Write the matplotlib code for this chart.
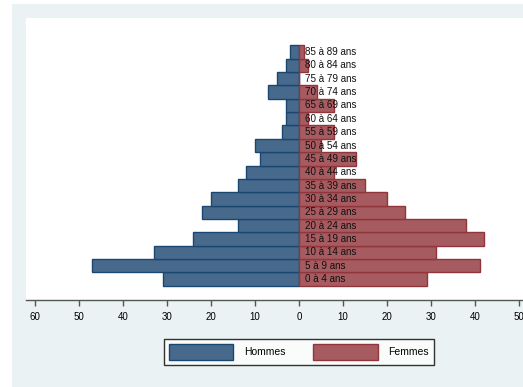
import matplotlib
matplotlib.use("Agg")
import matplotlib.pyplot as plt
from matplotlib.patches import Rectangle, Patch

plt.rcParams['font.family'] = ['Liberation Sans', 'DejaVu Sans']

age_groups = ["0 à 4 ans", "5 à 9 ans", "10 à 14 ans", "15 à 19 ans", "20 à 24 ans",
              "25 à 29 ans", "30 à 34 ans", "35 à 39 ans", "40 à 44 ans", "45 à 49 ans",
              "50 à 54 ans", "55 à 59 ans", "60 à 64 ans", "65 à 69 ans", "70 à 74 ans",
              "75 à 79 ans", "80 à 84 ans", "85 à 89 ans"]
hommes = [31, 47, 33, 24, 14, 22, 20, 14, 12, 9, 10, 4, 3, 3, 7, 5, 3, 2]
femmes = [29, 41, 31, 42, 38, 24, 20, 15, 8, 13, 5, 8, 2, 8, 4, 0, 2, 1]
tick_values = [-60, -50, -40, -30, -20, -10, 0, 10, 20, 30, 40, 50]

W, H = 523, 387
fig = plt.figure(figsize=(W / 100, H / 100), dpi=100)
fig.patch.set_facecolor("white")
fig.add_artist(Rectangle((12 / W, 0), 1, 1 - 4 / H, transform=fig.transFigure,
                         facecolor="#EAF2F3", edgecolor="none", zorder=0))

ax = fig.add_axes([26 / W, 1 - 300 / H, 1 - 26 / W + 0.01, (300 - 18) / H])
ax.set_facecolor("white")

y = list(range(len(age_groups)))
ax.barh(y, [-v for v in hommes], height=1.0, color="#476A8C", edgecolor="#1A476F",
        linewidth=1.0, label="Hommes")
ax.barh(y, femmes, height=1.0, color="#A65B60", edgecolor="#90353B",
        linewidth=1.0, label="Femmes")
for yi, lab in zip(y, age_groups):
    ax.text(1.3, yi, lab, va="center", ha="left", fontsize=7.1, color="#111111")

ax.set_xlim(-62.05, -62.05 + (W + 5 - 26) / 4.4)
ax.set_ylim(-1.57, 19.55)
ax.set_xticks(tick_values)
ax.set_xticklabels([str(abs(v)) for v in tick_values], fontsize=7)
ax.set_yticks([])
for s in ["top", "right", "left"]:
    ax.spines[s].set_visible(False)
ax.spines["bottom"].set_color("#555555")
ax.spines["bottom"].set_linewidth(1.0)
ax.tick_params(axis="x", direction="out", length=4, width=1, color="#555555", pad=5)

handles = [Patch(facecolor="#476A8C", edgecolor="#1A476F", label="Hommes"),
           Patch(facecolor="#A65B60", edgecolor="#90353B", label="Femmes")]
leg = fig.legend(handles=handles, ncol=2, loc="center", bbox_to_anchor=(299 / W, 1 - 352 / H),
                 fontsize=7.5, frameon=True, fancybox=False, handlelength=6.2,
                 handleheight=2.0, handletextpad=1.05, columnspacing=2.6,
                 borderpad=0.5, borderaxespad=0)
leg.get_frame().set_edgecolor("black")
leg.get_frame().set_linewidth(1.0)
leg.get_frame().set_facecolor("white")

fig.savefig("out.png", dpi=100, facecolor=fig.get_facecolor())
